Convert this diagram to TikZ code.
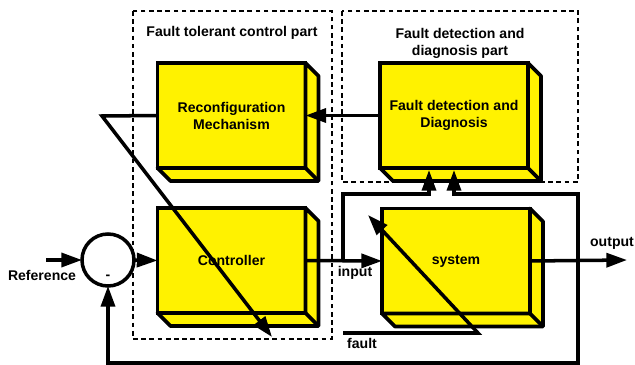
\documentclass[tikz,border=0pt]{standalone}
\usepackage{fontspec}
\setmainfont{Liberation Sans}
\usetikzlibrary{calc}
\usetikzlibrary{arrows.meta}

\begin{document}
\begin{tikzpicture}[x=0.03cm,y=-0.03cm,
  font=\fontsize{12}{14.5}\selectfont\bfseries,
  block/.style={draw,fill=yellow,line width=3.2pt,minimum width=4.44cm,minimum height=3.15cm,
    inner sep=0pt,outer sep=0pt,align=center},
  teil/.style={line width=2.4pt,dash pattern=on 4pt off 3pt},
  pfeil/.style={line width=3pt,-{Triangle[length=6.2mm,width=4.2mm]}}]
\useasboundingbox (0,0) rectangle (635,365);
\def\tiefe{13}
% gestrichelte Bereiche
\draw[teil] (133,11) rectangle (332,339);
\draw[teil] (342,11) rectangle (578,182);
\node (tftc) at (232,33) {Fault tolerant control part};
\node[align=center] (tfdd) at (460,43) {Fault detection and\\diagnosis part};
% Bloecke
\node[block] (recon) at (231.5,115.5) {Reconfiguration\\Mechanism};
\node[block] (fdd) at (454,115.5) {Fault detection and\\Diagnosis};
\node[block] (ctrl) at (231.5,260.5) {Controller};
\node[block] (sys) at (456,261) {system};
\foreach \n in {recon,fdd,ctrl,sys}{
  \filldraw[fill=yellow,line width=3.2pt,line join=round] (\n.north east) -- ++(\tiefe,\tiefe)
    -- ($(\n.south east)+(\tiefe,\tiefe)$) -- ($(\n.south west)+(\tiefe,\tiefe)$)
    -- (\n.south west) -- (\n.south east) -- cycle;
  \draw[line width=3.2pt] (\n.south east) -- ++(\tiefe,\tiefe);
}
\node[draw,circle,line width=3pt,minimum size=1.56cm,inner sep=0pt,outer sep=0pt] (summe) at (108,260) {};
\node (minus) at (108,277) {-};
\coordinate (ref) at (46,260);
\coordinate (in) at (343,260);
\coordinate (fb) at (578,260);
\coordinate (out) at (627,260);
\coordinate (unten) at (108,363);
\coordinate (rc) at (102,116);
\coordinate (rctip) at (272,337);
\coordinate (flt) at (343,333);
\coordinate (fltk) at (478,333);
\coordinate (flttip) at (368,215);
% Verbindungen
\draw[pfeil] (ref) -- (summe.west);
\draw[pfeil] (summe.east) -- (ctrl.west);
\draw[pfeil] (ctrl.east) -- (sys.west);
\draw[pfeil] (sys.east) -- (out);
\draw[pfeil] (in) |- ($(fdd.south)+(-25,26)$) -- ($(fdd.south)+(-25,2)$);
\draw[pfeil] (fb) |- ($(fdd.south)+(0,26)$) -- ($(fdd.south)+(0,2)$);
\draw[pfeil] (fb) |- (unten) -- (summe.south);
\draw[pfeil] (fdd.west) -- (recon.east);
\draw[pfeil] (recon.west) -- (rc) -- (rctip);
\draw[pfeil] (flt) -- (fltk) -- (flttip);
\node (lref) at (42,275) {Reference};
\node (lin) at (355,273) {input};
\node (lout) at (612,243) {output};
\node (lflt) at (362,343) {fault};
\end{tikzpicture}
\end{document}
